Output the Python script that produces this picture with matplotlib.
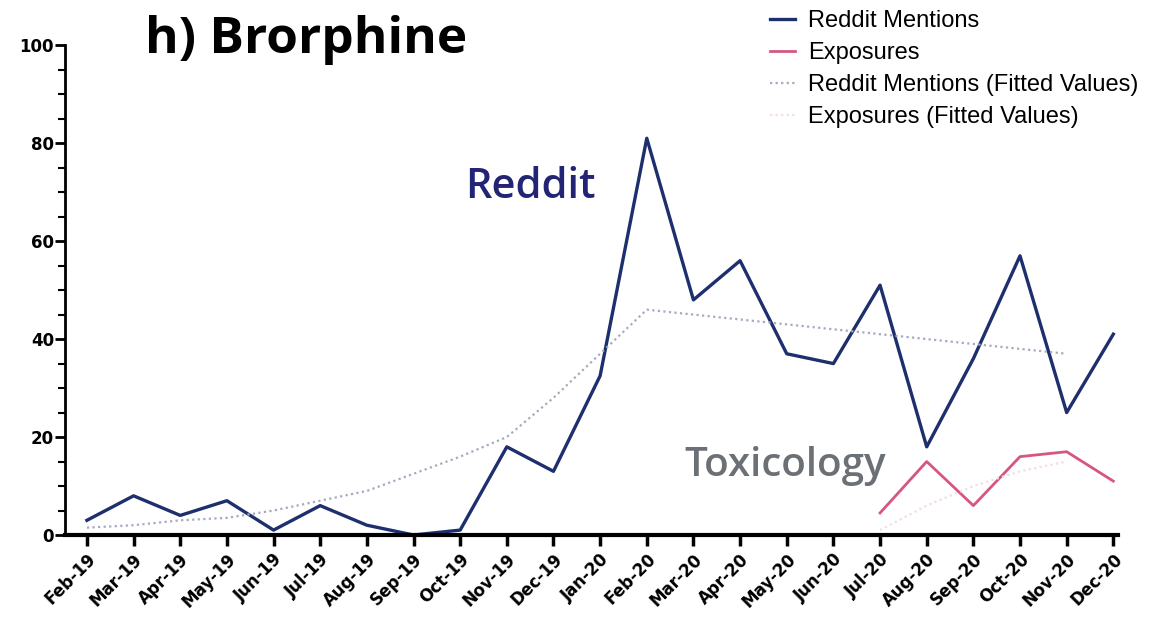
import numpy as np
import matplotlib.pyplot as plt
from matplotlib.ticker import MultipleLocator

# ---- data ----
months = ["Feb-19", "Mar-19", "Apr-19", "May-19", "Jun-19", "Jul-19", "Aug-19",
          "Sep-19", "Oct-19", "Nov-19", "Dec-19", "Jan-20", "Feb-20", "Mar-20",
          "Apr-20", "May-20", "Jun-20", "Jul-20", "Aug-20", "Sep-20", "Oct-20",
          "Nov-20", "Dec-20"]
reddit = [3, 8, 4, 7, 1, 6, 2, 0, 1, 18, 13, 32.5, 81, 48, 56, 37, 35, 51, 18, 36, 57, 25, 41]
reddit_fit = [1.5, 2, 3, 3.5, 5, 7, 9, 12.5, 16, 20, 28, 37, 46, 45, 44, 43, 42, 41, 40, 39, 38, 37]
exposures = [4.5, 15, 6, 16, 17, 11]          # Jul-20 .. Dec-20
exposures_fit = [1, 6, 10, 13, 15]            # Jul-20 .. Nov-20 (very faint)

x = np.arange(len(months))
x_exp = x[17:17 + len(exposures)]
x_exp_fit = x[17:17 + len(exposures_fit)]
x_fit = x[:len(reddit_fit)]

fig = plt.figure(figsize=(11.67, 6.19), dpi=100)
ax = fig.add_axes([0.0557, 0.1357, 0.9023, 0.7913])

ax.plot(x, reddit, color='#1e2f6e', linewidth=2.4, label='Reddit Mentions')
ax.plot(x_exp, exposures, color='#d6577e', linewidth=2.0, label='Exposures')
ax.plot(x_fit, reddit_fit, color='#a3abbf', linewidth=1.6, linestyle=(0, (1, 1.5)),
        label='Reddit Mentions (Fitted Values)')
ax.plot(x_exp_fit, exposures_fit, color='#f3dce4', linewidth=1.6, linestyle=(0, (1, 1.5)),
        label='Exposures (Fitted Values)')

ax.set_xlim(-0.47, 22.1)
ax.set_ylim(0, 100)
ax.set_xticks(x)
ax.set_xticklabels(months, rotation=45, ha='right', rotation_mode='anchor',
                   fontsize=12, fontweight='bold')
ax.yaxis.set_major_locator(MultipleLocator(20))
ax.yaxis.set_minor_locator(MultipleLocator(5))
for lbl in ax.get_yticklabels():
    lbl.set_fontweight('bold')
    lbl.set_fontsize(12)

ax.spines['top'].set_visible(False)
ax.spines['right'].set_visible(False)
ax.spines['left'].set_linewidth(2)
ax.spines['bottom'].set_linewidth(3)
ax.tick_params(axis='x', length=8, width=2.5, direction='out', pad=3)
ax.tick_params(axis='y', which='major', length=7, width=2, direction='out', pad=1)
ax.tick_params(axis='y', which='minor', length=5, width=1.5, direction='out')

fig.text(0.124, 0.935, "h) Brorphine", fontsize=37, fontweight='bold',
         family='Open Sans', va='center', ha='left')
ax.text(0.442, 0.71, "Reddit", transform=ax.transAxes, fontsize=30,
        color='#232574', family='Open Sans', fontweight='semibold', ha='center', va='center')
ax.text(0.684, 0.14, "Toxicology", transform=ax.transAxes, fontsize=29,
        color='#6b7076', family='Open Sans', fontweight='semibold', ha='center', va='center')

leg = fig.legend(loc='upper left', bbox_to_anchor=(0.66, 0.984), frameon=False,
                 prop={'family': 'Liberation Sans', 'size': 17},
                 handlelength=1.06, handletextpad=0.55, labelspacing=0.43,
                 borderpad=0, borderaxespad=0)

fig.savefig("out.png", dpi=100)
